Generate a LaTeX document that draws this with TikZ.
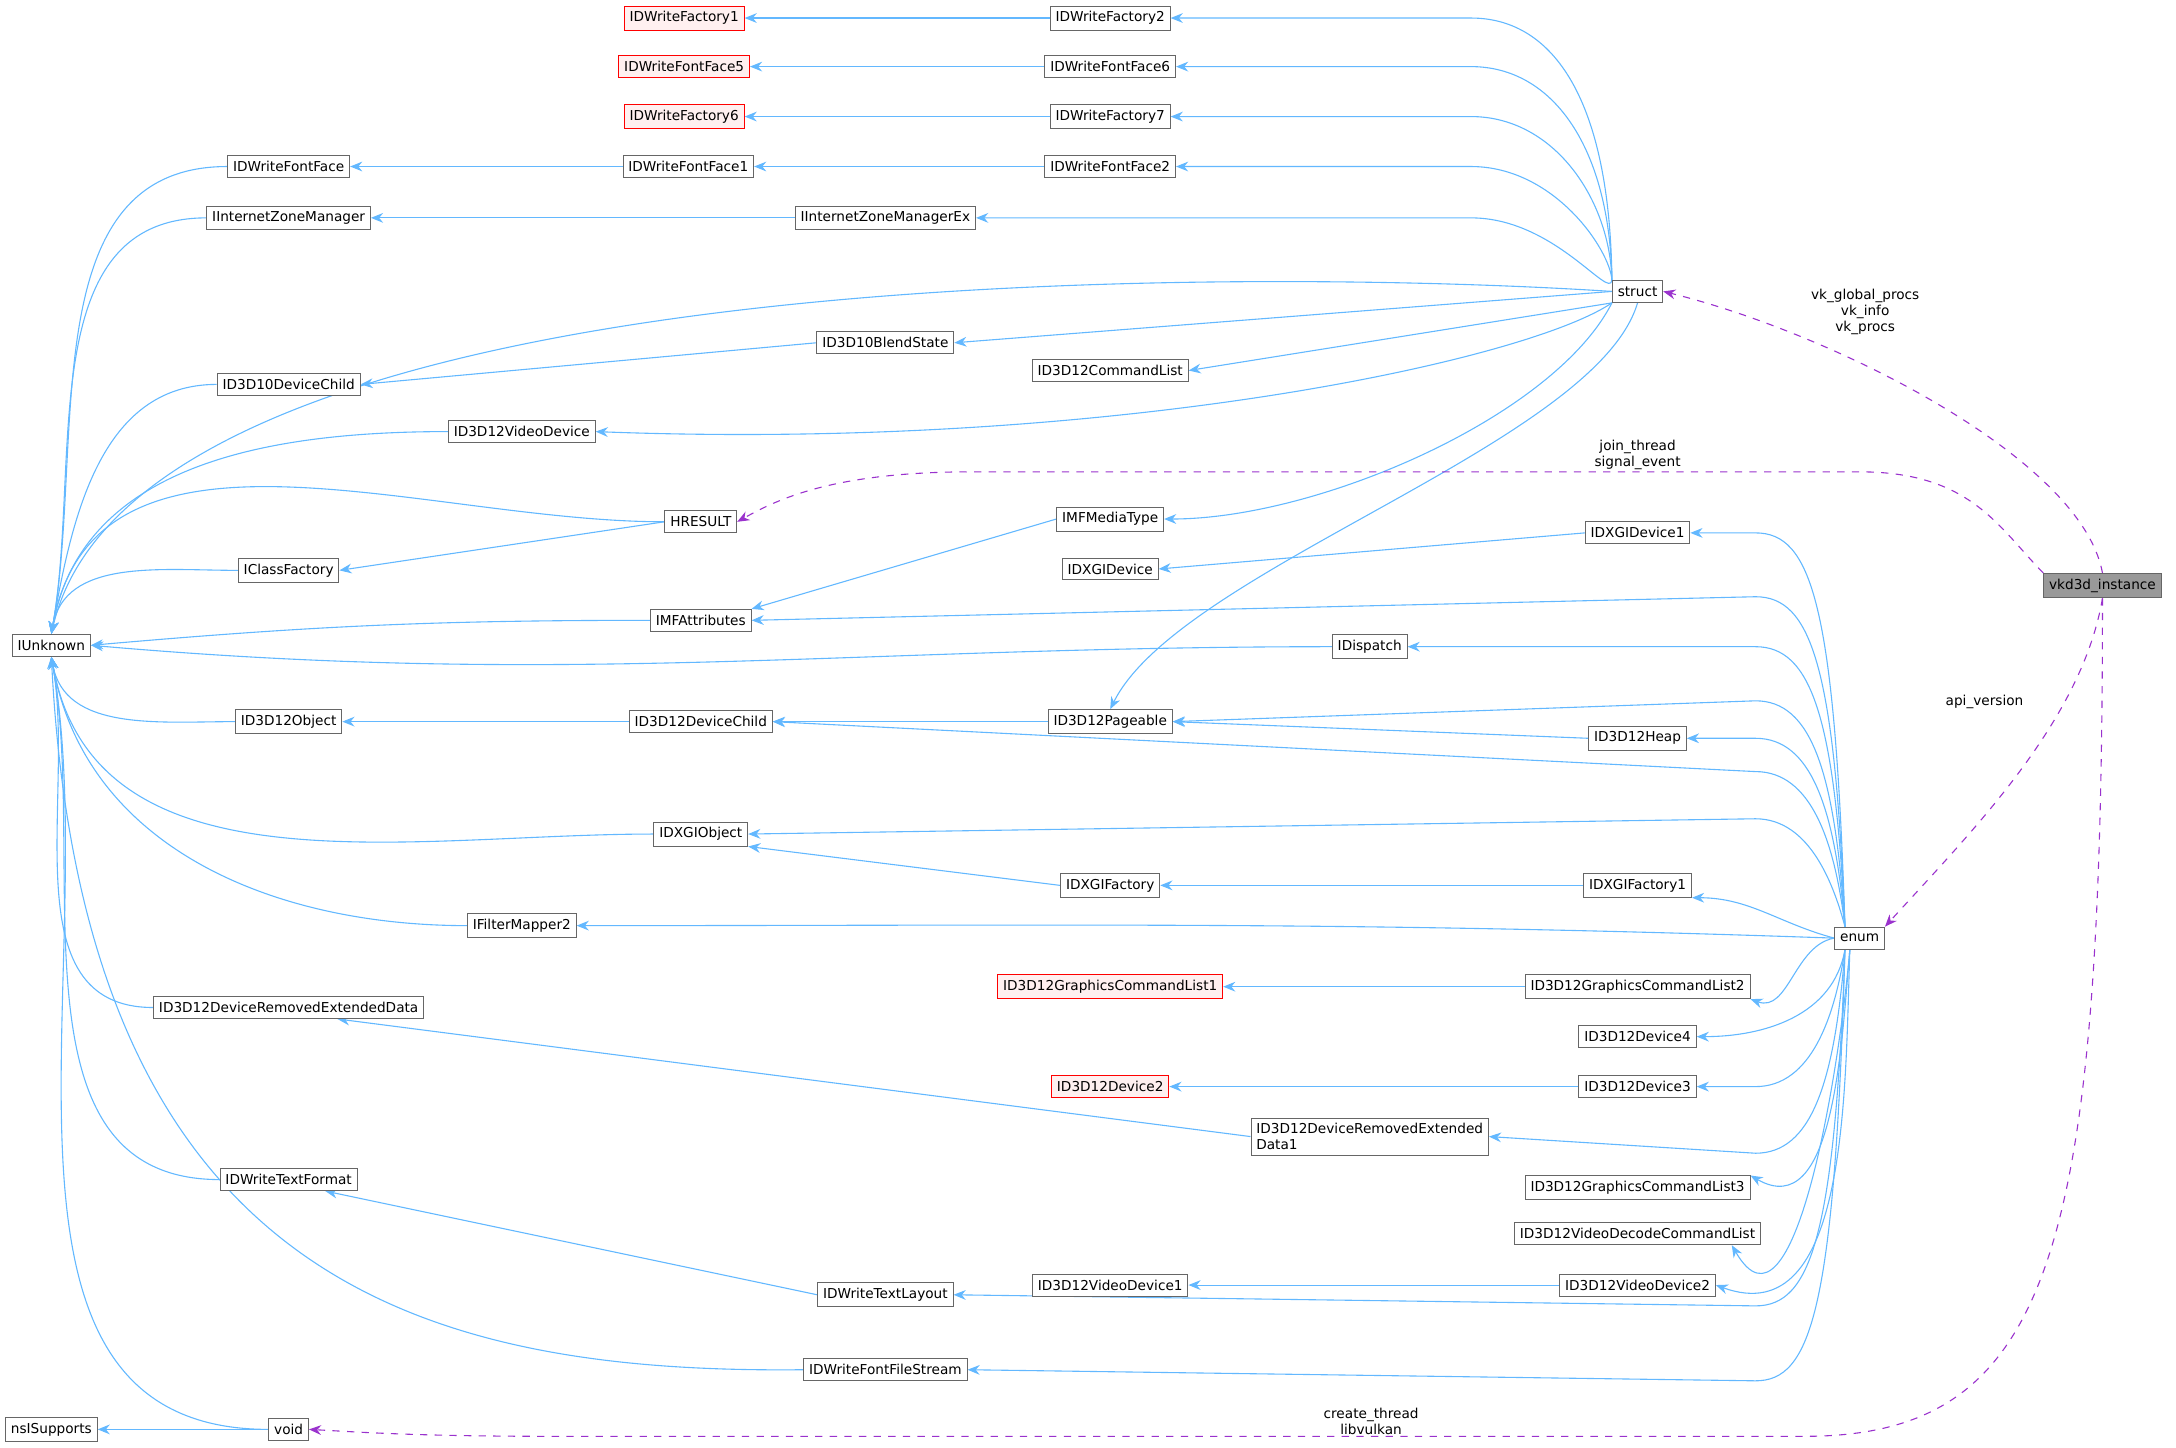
\documentclass[tikz,border=0pt]{standalone}
\usepackage{fontspec}
\setmainfont{DejaVu Sans}
\usetikzlibrary{arrows.meta}
\definecolor{eb}{RGB}{99,184,255}
\definecolor{ep}{RGB}{154,50,205}
\pgfdeclarelayer{bg}
\pgfsetlayers{bg,main}
\begin{document}
\begin{tikzpicture}[x=0.02cm,y=-0.02cm,
  n/.style={draw=black!60,fill=white,inner sep=2.2pt,minimum height=9pt,font=\fontsize{5.6pt}{6.5pt}\selectfont,align=center},
  r/.style={n,draw=red,fill=red!6},
  e/.style={draw=eb,line width=0.45pt,-{Stealth[length=5pt,width=4pt]}},
  p/.style={draw=ep,dashed,line width=0.45pt,-{Stealth[length=5pt,width=4pt]}},
  l/.style={font=\fontsize{5.6pt}{6.5pt}\selectfont,align=center}]
\useasboundingbox (0,0) rectangle (1568,1043);
\node[r] (wf1) at (493,13) {IDWriteFactory1};
\node[n] (wf2) at (800,13) {IDWriteFactory2};
\node[r] (ff5) at (493,48) {IDWriteFontFace5};
\node[n] (ff6) at (800,48) {IDWriteFontFace6};
\node[r] (wf6) at (493,84) {IDWriteFactory6};
\node[n] (wf7) at (800,84) {IDWriteFactory7};
\node[n] (ff) at (208,120) {IDWriteFontFace};
\node[n] (ff1) at (496,120) {IDWriteFontFace1};
\node[n] (ff2) at (800,120) {IDWriteFontFace2};
\node[n] (izm) at (208,157) {IInternetZoneManager};
\node[n] (izmx) at (638,157) {IInternetZoneManagerEx};
\node[n] (struct) at (1180,210) {struct};
\node[n] (bs) at (638,247) {ID3D10BlendState};
\node[n] (dc10) at (208,277) {ID3D10DeviceChild};
\node[n] (cl) at (800,267) {ID3D12CommandList};
\node[n] (vd) at (376,311) {ID3D12VideoDevice};
\node[n] (hr) at (505,376) {HRESULT};
\node[n] (mt) at (800,374) {IMFMediaType};
\node[n] (gd1) at (1180,384) {IDXGIDevice1};
\node[n] (gd) at (800,410) {IDXGIDevice};
\node[n] (cf) at (208,411) {IClassFactory};
\node[n] (ma) at (505,447) {IMFAttributes};
\node[n] (iu) at (37,465) {IUnknown};
\node[n] (dis) at (987,466) {IDispatch};
\node[n,fill=black!40] (vk) at (1515,422) {vkd3d\_instance};
\node[n] (obj) at (208,520) {ID3D12Object};
\node[n] (dc) at (505,520) {ID3D12DeviceChild};
\node[n] (pg) at (800,520) {ID3D12Pageable};
\node[n] (heap) at (1180,532) {ID3D12Heap};
\node[n] (go) at (505,601) {IDXGIObject};
\node[n] (gf) at (800,638) {IDXGIFactory};
\node[n] (gf1) at (1180,638) {IDXGIFactory1};
\node[n] (fm) at (376,667) {IFilterMapper2};
\node[n] (enum) at (1340,676) {enum};
\node[r] (gcl1) at (800,711) {ID3D12GraphicsCommandList1};
\node[n] (gcl2) at (1180,711) {ID3D12GraphicsCommandList2};
\node[n] (dred) at (208,726) {ID3D12DeviceRemovedExtendedData};
\node[n] (d4) at (1180,747) {ID3D12Device4};
\node[r] (d2) at (800,783) {ID3D12Device2};
\node[n] (d3) at (1180,783) {ID3D12Device3};
\node[n,align=left] (dred1) at (987,819) {ID3D12DeviceRemovedExtended\\Data1};
\node[n] (tf) at (208,850) {IDWriteTextFormat};
\node[n] (gcl3) at (1180,856) {ID3D12GraphicsCommandList3};
\node[n] (vdcl) at (1180,889) {ID3D12VideoDecodeCommandList};
\node[n] (vd1) at (800,926) {ID3D12VideoDevice1};
\node[n] (vd2) at (1180,926) {ID3D12VideoDevice2};
\node[n] (tl) at (638,933) {IDWriteTextLayout};
\node[n] (ffs) at (638,987) {IDWriteFontFileStream};
\node[n] (ns) at (37,1030) {nsISupports};
\node[n] (void) at (208,1030) {void};
\begin{pgfonlayer}{bg}
\draw[e] (wf2) -- (wf1);
\draw[e] (ff6) -- (ff5);
\draw[e] (wf7) -- (wf6);
\draw[e] (ff1) -- (ff);
\draw[e] (ff2) -- (ff1);
\draw[e] (izmx) -- (izm);
\draw[e] (bs.west) -- (dc10.east);
\draw[e] (hr.west) -- (cf.east);
\draw[e] (mt.west) -- (ma.north east);
\draw[e] (gd1.west) -- (gd.east);
\draw[e] (dc) -- (obj);
\draw[e] (pg) -- (dc);
\draw[e] (heap.west) -- (pg.east);
\draw[e] (gf.west) -- (go.south east);
\draw[e] (gf1) -- (gf);
\draw[e] (gcl2) -- (gcl1);
\draw[e] (d3) -- (d2);
\draw[e] (dred1.west) -- ([xshift=20]dred.south);
\draw[e] (tl.west) -- ([xshift=15]tf.south);
\draw[e] (vd2) -- (vd1);
\draw[e] (void) -- (ns);
\foreach \s in {ff,izm,dc10,vd,hr,cf}
  \draw[e] (\s.west) to[out=180,in=80] (iu.north);
\draw[e] (struct.west) .. controls (900,193) and (100,185) .. (iu.north);
\draw[e] (ma.west) to[out=180,in=5] (iu.east);
\draw[e] (dis.west) to[out=180,in=-5] (iu.east);
\foreach \s in {obj,go,fm,dred,tf,void}
  \draw[e] (\s.west) to[out=180,in=-80] (iu.south);
\draw[e] (ffs.west) .. controls (300,990) and (60,920) .. (iu.south);
\foreach \t/\y in {wf2/13,ff6/48,wf7/84,ff2/120,izmx/157}
  \draw[e] (struct.north west) .. controls (1160,\y+60) and (1120,\y) .. (1060,\y) -- (\t.east);
\draw[e] (struct.west) -- (bs.east);
\draw[e] (struct.south west) -- (cl.east);
\draw[e] (struct.south west) .. controls (1100,260) and (800,325) .. (vd.east);
\draw[e] (struct.south west) .. controls (1120,300) and (950,374) .. (mt.east);
\draw[e] (struct.south) .. controls (1150,320) and (850,410) .. (pg.north);
\foreach \t/\y in {gd1/384,ma/430,dis/466,pg/505,heap/532,dc/556,go/590}
  \draw[e] ([xshift=-6]enum.north) .. controls (1322,\y+50) and (1305,\y) .. (1265,\y) -- (\t.east);
\draw[e] (enum.west) to[out=165,in=0] (gf1.south east);
\draw[e] (enum.west) to[out=178,in=0] (fm.east);
\draw[e] (enum.west) to[out=190,in=-20] (gcl2.south east);
\draw[e] ([xshift=-6]enum.south) to[out=-100,in=0] (d4.east);
\foreach \t/\y in {d3/783,dred1/831,tl/941,ffs/995}
  \draw[e] ([xshift=-6]enum.south) .. controls (1322,\y-50) and (1305,\y) .. (1265,\y) -- (\t.east);
\draw[e] ([xshift=-4]enum.south) to[out=-95,in=-30] (gcl3.north east);
\draw[e] ([xshift=-4]enum.south) to[out=-95,in=-60] ([xshift=-12]vdcl.south east);
\draw[e] ([xshift=-4]enum.south) to[out=-92,in=-20] (vd2.east);
\draw[p] (vk.north) .. controls (1500,330) and (1320,240) .. (struct.east);
\draw[p] (vk.north west) .. controls (1440,380) and (1420,340) .. (1340,340) -- (700,340) .. controls (600,340) and (560,360) .. (hr.east);
\draw[p] (vk.south) .. controls (1500,520) and (1420,600) .. (enum.north east);
\draw[p] (vk.south) .. controls (1515,900) and (1480,1035) .. (1300,1035) -- (400,1035) .. controls (300,1035) and (260,1032) .. (void.east);
\end{pgfonlayer}
\node[l] at (1344,225) {vk\_global\_procs\\vk\_info\\vk\_procs};
\node[l] at (1180,328) {join\_thread\\signal\_event};
\node[l] at (1430,506) {api\_version};
\node[l] at (988,1024) {create\_thread\\libvulkan};
\end{tikzpicture}
\end{document}
